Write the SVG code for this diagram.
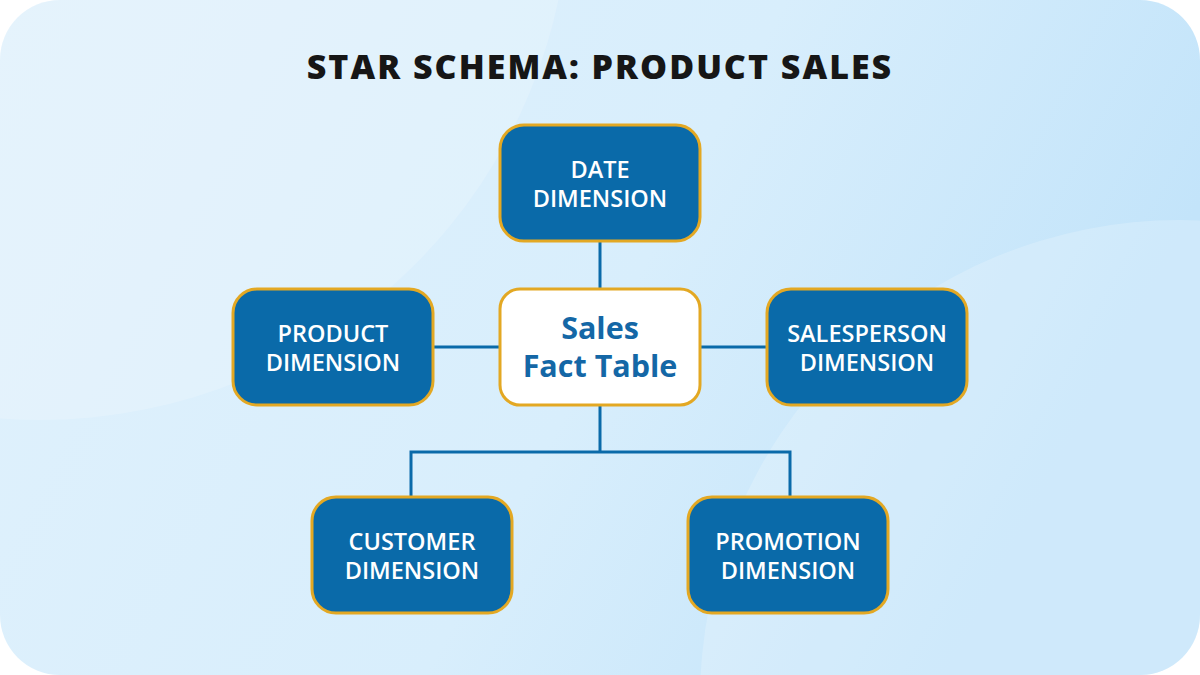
<svg xmlns="http://www.w3.org/2000/svg" width="1200" height="675" viewBox="0 0 1200 675">
  <defs>
    <linearGradient id="bg" x1="0" y1="0" x2="1" y2="0.3">
      <stop offset="0" stop-color="#e0f1fc"/>
      <stop offset="0.6" stop-color="#d8eefc"/>
      <stop offset="1" stop-color="#c3e4fa"/>
    </linearGradient>
    <clipPath id="card">
      <rect x="0" y="0" width="1200" height="675" rx="60" ry="60"/>
    </clipPath>
    <style>
      .dim rect { fill: #0a6aa9; stroke: #e3a823; stroke-width: 3; }
      .dim text { fill: #ffffff; font-family: "Open Sans", "Noto Sans", sans-serif; font-weight: 600; font-size: 23.5px; text-anchor: middle; }
      .fact rect { fill: #ffffff; stroke: #e3a823; stroke-width: 3; }
      .fact text { fill: #1467a6; font-family: "Open Sans", "Noto Sans", sans-serif; font-weight: 700; font-size: 30.5px; text-anchor: middle; }
      .conn line, .conn path { stroke: #0a6aa9; stroke-width: 3; fill: none; }
      .title { fill: #161616; font-family: "Open Sans", "Noto Sans", sans-serif; font-weight: 800; font-size: 34px; letter-spacing: 2px; text-anchor: middle; }
    </style>
  </defs>
  <rect width="1200" height="675" fill="#ffffff"/>
  <g clip-path="url(#card)">
    <rect width="1200" height="675" fill="url(#bg)"/>
    <circle cx="40" cy="-110" r="530" fill="#ffffff" opacity="0.18"/>
    <circle cx="1180" cy="700" r="480" fill="#ffffff" opacity="0.2"/>
  </g>
  <text class="title" x="600" y="79">STAR SCHEMA: PRODUCT SALES</text>

  <g class="conn" id="connectors">
    <line x1="600" y1="241" x2="600" y2="289"/>
    <line x1="433" y1="347" x2="500" y2="347"/>
    <line x1="700" y1="347" x2="767" y2="347"/>
    <line x1="600" y1="405" x2="600" y2="452"/>
    <path d="M411 497 V452 H790 V497"/>
  </g>

  <g class="dim" id="date">
    <rect x="500" y="125" width="200" height="116" rx="24"/>
    <text x="600" y="178">DATE</text>
    <text x="600" y="207">DIMENSION</text>
  </g>
  <g class="dim" id="product">
    <rect x="233" y="289" width="200" height="116" rx="24"/>
    <text x="333" y="342">PRODUCT</text>
    <text x="333" y="371">DIMENSION</text>
  </g>
  <g class="fact" id="fact">
    <rect x="500" y="289" width="200" height="116" rx="20"/>
    <text x="600" y="339">Sales</text>
    <text x="600" y="377">Fact Table</text>
  </g>
  <g class="dim" id="salesperson">
    <rect x="767" y="289" width="200" height="116" rx="24"/>
    <text x="867" y="342">SALESPERSON</text>
    <text x="867" y="371">DIMENSION</text>
  </g>
  <g class="dim" id="customer">
    <rect x="312" y="497" width="200" height="116" rx="24"/>
    <text x="412" y="550">CUSTOMER</text>
    <text x="412" y="579">DIMENSION</text>
  </g>
  <g class="dim" id="promotion">
    <rect x="688" y="497" width="200" height="116" rx="24"/>
    <text x="788" y="550">PROMOTION</text>
    <text x="788" y="579">DIMENSION</text>
  </g>
</svg>
